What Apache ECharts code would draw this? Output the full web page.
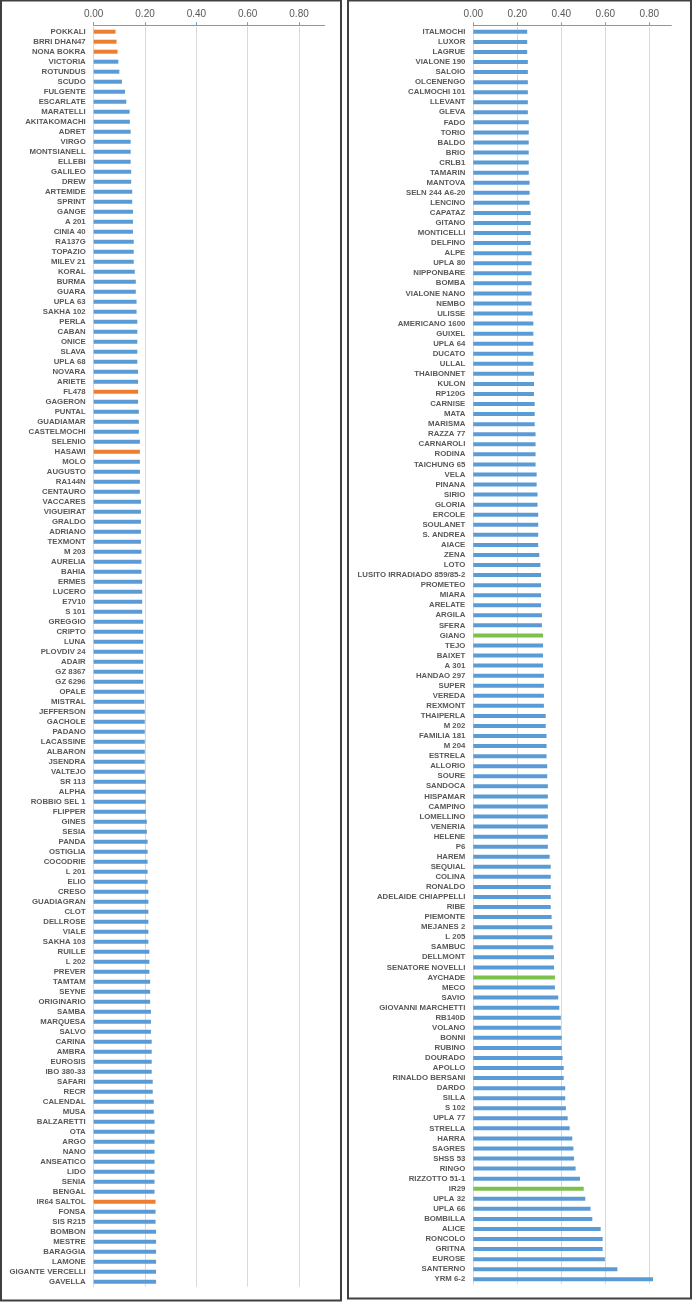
<!DOCTYPE html>
<html><head><meta charset="utf-8">
<script src="https://cdn.jsdelivr.net/npm/echarts@6/dist/echarts.min.js"></script>
<style>html,body{margin:0;padding:0;background:#fff}#c{width:693px;height:1303px}</style>
</head><body><div id="c"></div>
<script>
const leftNames = ['POKKALI','BRRI DHAN47','NONA BOKRA','VICTORIA','ROTUNDUS','SCUDO','FULGENTE','ESCARLATE','MARATELLI','AKITAKOMACHI',
'ADRET','VIRGO','MONTSIANELL','ELLEBI','GALILEO','DREW','ARTEMIDE','SPRINT','GANGE','A 201',
'CINIA 40','RA137G','TOPAZIO','MILEV 21','KORAL','BURMA','GUARA','UPLA 63','SAKHA 102','PERLA',
'CABAN','ONICE','SLAVA','UPLA 68','NOVARA','ARIETE','FL478','GAGERON','PUNTAL','GUADIAMAR',
'CASTELMOCHI','SELENIO','HASAWI','MOLO','AUGUSTO','RA144N','CENTAURO','VACCARES','VIGUEIRAT','GRALDO',
'ADRIANO','TEXMONT','M 203','AURELIA','BAHIA','ERMES','LUCERO','E7V10','S 101','GREGGIO',
'CRIPTO','LUNA','PLOVDIV 24','ADAIR','GZ 8367','GZ 6296','OPALE','MISTRAL','JEFFERSON','GACHOLE',
'PADANO','LACASSINE','ALBARON','JSENDRA','VALTEJO','SR 113','ALPHA','ROBBIO SEL 1','FLIPPER','GINES',
'SESIA','PANDA','OSTIGLIA','COCODRIE','L 201','ELIO','CRESO','GUADIAGRAN','CLOT','DELLROSE',
'VIALE','SAKHA 103','RUILLE','L 202','PREVER','TAMTAM','SEYNE','ORIGINARIO','SAMBA','MARQUESA',
'SALVO','CARINA','AMBRA','EUROSIS','IBO 380-33','SAFARI','RECR','CALENDAL','MUSA','BALZARETTI',
'OTA','ARGO','NANO','ANSEATICO','LIDO','SENIA','BENGAL','IR64 SALTOL','FONSA','SIS R215',
'BOMBON','MESTRE','BARAGGIA','LAMONE','GIGANTE VERCELLI','GAVELLA'];
const leftValues = [0.085,0.089,0.093,0.096,0.100,0.110,0.122,0.127,0.140,0.141,
0.144,0.144,0.144,0.144,0.146,0.146,0.150,0.150,0.153,0.153,
0.153,0.156,0.156,0.156,0.160,0.164,0.164,0.167,0.167,0.170,
0.170,0.170,0.170,0.170,0.173,0.173,0.173,0.173,0.176,0.176,
0.176,0.180,0.180,0.180,0.180,0.180,0.180,0.184,0.184,0.184,
0.184,0.184,0.186,0.186,0.186,0.189,0.189,0.189,0.189,0.193,
0.193,0.193,0.193,0.193,0.193,0.193,0.197,0.197,0.199,0.199,
0.199,0.199,0.199,0.199,0.199,0.203,0.203,0.203,0.203,0.207,
0.207,0.210,0.210,0.210,0.210,0.210,0.213,0.213,0.213,0.213,
0.213,0.213,0.217,0.217,0.217,0.220,0.220,0.220,0.223,0.223,
0.223,0.226,0.226,0.226,0.226,0.230,0.230,0.234,0.234,0.237,
0.237,0.237,0.237,0.237,0.237,0.237,0.237,0.241,0.241,0.241,
0.243,0.243,0.243,0.243,0.243,0.243];
const rightNames = ['ITALMOCHI','LUXOR','LAGRUE','VIALONE 190','SALOIO','OLCENENGO','CALMOCHI 101','LLEVANT','GLEVA','FADO',
'TORIO','BALDO','BRIO','CRLB1','TAMARIN','MANTOVA','SELN 244 A6-20','LENCINO','CAPATAZ','GITANO',
'MONTICELLI','DELFINO','ALPE','UPLA 80','NIPPONBARE','BOMBA','VIALONE NANO','NEMBO','ULISSE','AMERICANO 1600',
'GUIXEL','UPLA 64','DUCATO','ULLAL','THAIBONNET','KULON','RP120G','CARNISE','MATA','MARISMA',
'RAZZA 77','CARNAROLI','RODINA','TAICHUNG 65','VELA','PINANA','SIRIO','GLORIA','ERCOLE','SOULANET',
'S. ANDREA','AIACE','ZENA','LOTO','LUSITO IRRADIADO 859/85-2','PROMETEO','MIARA','ARELATE','ARGILA','SFERA',
'GIANO','TEJO','BAIXET','A 301','HANDAO 297','SUPER','VEREDA','REXMONT','THAIPERLA','M 202',
'FAMILIA 181','M 204','ESTRELA','ALLORIO','SOURE','SANDOCA','HISPAMAR','CAMPINO','LOMELLINO','VENERIA',
'HELENE','P6','HAREM','SEQUIAL','COLINA','RONALDO','ADELAIDE CHIAPPELLI','RIBE','PIEMONTE','MEJANES 2',
'L 205','SAMBUC','DELLMONT','SENATORE NOVELLI','AYCHADE','MECO','SAVIO','GIOVANNI MARCHETTI','RB140D','VOLANO',
'BONNI','RUBINO','DOURADO','APOLLO','RINALDO BERSANI','DARDO','SILLA','S 102','UPLA 77','STRELLA',
'HARRA','SAGRES','SHSS 53','RINGO','RIZZOTTO 51-1','IR29','UPLA 32','UPLA 66','BOMBILLA','ALICE',
'RONCOLO','GRITNA','EUROSE','SANTERNO','YRM 6-2'];
const rightValues = [0.245,0.245,0.245,0.248,0.248,0.248,0.248,0.248,0.248,0.252,
0.252,0.252,0.252,0.252,0.252,0.256,0.256,0.256,0.261,0.261,
0.261,0.261,0.265,0.265,0.265,0.265,0.265,0.265,0.270,0.273,
0.273,0.273,0.273,0.273,0.276,0.276,0.276,0.279,0.279,0.279,
0.283,0.283,0.283,0.283,0.288,0.288,0.292,0.292,0.295,0.295,
0.295,0.295,0.300,0.305,0.308,0.308,0.308,0.308,0.312,0.312,
0.317,0.317,0.317,0.317,0.321,0.321,0.321,0.321,0.329,0.329,
0.333,0.333,0.333,0.336,0.336,0.339,0.339,0.339,0.339,0.339,
0.339,0.339,0.347,0.352,0.352,0.352,0.352,0.352,0.356,0.359,
0.359,0.364,0.367,0.367,0.371,0.371,0.386,0.391,0.398,0.398,
0.402,0.402,0.406,0.411,0.411,0.418,0.418,0.421,0.429,0.438,
0.450,0.455,0.458,0.465,0.485,0.502,0.509,0.533,0.541,0.579,
0.588,0.588,0.598,0.655,0.817];
const orangeNames = ['POKKALI','BRRI DHAN47','NONA BOKRA','FL478','HASAWI','IR64 SALTOL'];
const greenNames = ['GIANO','AYCHADE','IR29'];
const axisMin = 0, axisMax = 0.9, axisStep = 0.2;

const BLUE = '#5B9BD5', ORANGE = '#ED7D31', GREEN = '#7CC14E';
function colored(names, values) {
  return values.map((v, i) => ({
    value: v,
    itemStyle: { color: orangeNames.includes(names[i]) ? ORANGE : (greenNames.includes(names[i]) ? GREEN : BLUE) }
  }));
}
function xAxisFor(gi) {
  return {
    gridIndex: gi, type: 'value', position: 'top', min: axisMin, max: axisMax, interval: axisStep,
    offset: 1.5,
    axisLine: { show: true, lineStyle: { color: '#6A9FD2', width: 1 } },
    axisTick: { show: true, inside: false, length: 3, lineStyle: { color: '#6A9FD2' } },
    axisLabel: { color: '#595959', fontSize: 10, fontFamily: 'Liberation Sans, Arial, sans-serif', margin: 6,
      showMaxLabel: false, formatter: v => v.toFixed(2) },
    splitLine: { show: true, showMinLine: false, showMaxLine: false, lineStyle: { color: '#D9D9D9', width: 1 } }
  };
}
function yAxisFor(gi, names) {
  return {
    gridIndex: gi, type: 'category', data: names, inverse: true,
    axisLine: { show: true, lineStyle: { color: '#D9D9D9' } },
    axisTick: { show: false },
    axisLabel: { color: '#595959', fontSize: 7.8, fontWeight: 'bold', fontFamily: 'Liberation Sans, Arial, sans-serif',
      margin: 8, interval: 0 }
  };
}
const chart = echarts.init(document.getElementById('c'), null, { renderer: 'canvas' });
chart.setOption({
  animation: false,
  backgroundColor: '#fff',
  grid: [
    { left: 93.7, top: 26.7, width: 231, height: 1260 },
    { left: 473.3, top: 26.8, width: 198, height: 1257.5 }
  ],
  xAxis: [xAxisFor(0), xAxisFor(1)],
  yAxis: [yAxisFor(0, leftNames), yAxisFor(1, rightNames)],
  series: [
    { type: 'bar', xAxisIndex: 0, yAxisIndex: 0, barWidth: 4, data: colored(leftNames, leftValues) },
    { type: 'bar', xAxisIndex: 1, yAxisIndex: 1, barWidth: 4, data: colored(rightNames, rightValues) }
  ],
  graphic: [
    { type: 'rect', shape: { x: 1, y: 0.5, width: 340, height: 1300 }, style: { fill: 'none', stroke: '#404040', lineWidth: 2 }, silent: true },
    { type: 'rect', shape: { x: 348, y: 0.5, width: 343, height: 1298 }, style: { fill: 'none', stroke: '#404040', lineWidth: 2 }, silent: true }
  ]
});
</script></body></html>
